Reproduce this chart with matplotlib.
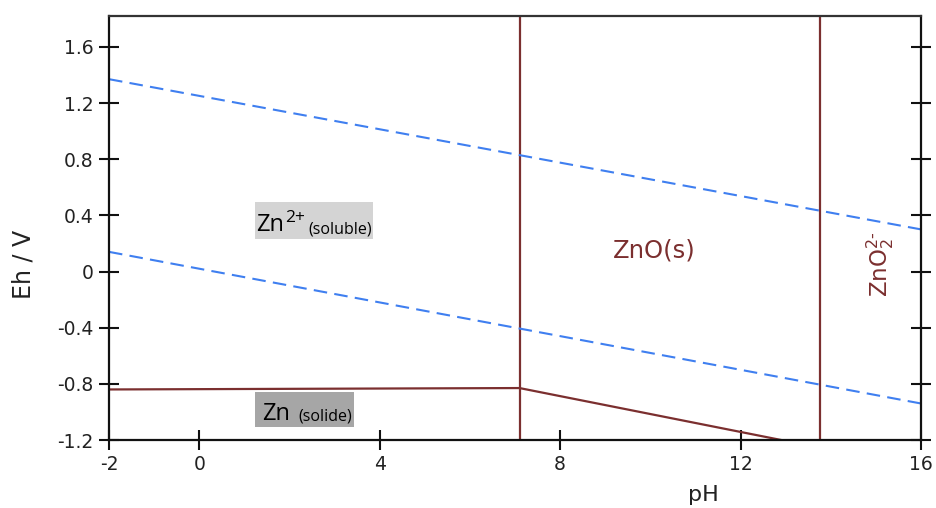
import matplotlib
matplotlib.use("Agg")
import matplotlib.pyplot as plt
from matplotlib.patches import Rectangle

# Pourbaix (Eh-pH) diagram of zinc
ph_zno_bounds = [7.1, 13.75]           # Zn2+/ZnO and ZnO/ZnO2 2- limits
zn_ph = [-2.0, 7.1, 12.9]             # Zn(s) stability limit
zn_eh = [-0.84, -0.83, -1.2]
water_ph = [-2.0, 16.0]                # water stability lines
water_o2 = [1.37, 0.30]
water_h2 = [0.14, -0.94]
xticks = [-2, 0, 4, 8, 12, 16]
yticks = [-1.2, -0.8, -0.4, 0, 0.4, 0.8, 1.2, 1.6]

brown = '#7b2f2f'
blue = '#3f7ff0'

fig = plt.figure(figsize=(9.36, 5.08), dpi=100)
ax = fig.add_axes([109/936, 1 - 440/508, 812/936, 424/508])

for ph in ph_zno_bounds:
    ax.axvline(ph, color=brown, lw=1.6)
ax.plot(zn_ph, zn_eh, color=brown, lw=1.6)
ax.plot(water_ph, water_o2, color=blue, lw=1.5, dashes=(6.5, 3.5))
ax.plot(water_ph, water_h2, color=blue, lw=1.5, dashes=(6.5, 3.5))

ax.set_xlim(-2, 16)
ax.set_ylim(-1.2, 1.82)
ax.set_xticks(xticks)
ax.set_yticks(yticks)
ax.set_yticklabels(['-1.2', '-0.8', '-0.4', '0', '0.4', '0.8', '1.2', '1.6'])
ax.set_xticklabels([str(t) for t in xticks])
ax.tick_params(axis='both', direction='inout', length=14, width=1.5,
               labelsize=13.5, color='#111111', labelcolor='#222222')
ax.tick_params(axis='y', right=True, pad=4)
ax.tick_params(axis='x', pad=4)
for side in ['left', 'bottom', 'right']:
    ax.spines[side].set_linewidth(1.6)
    ax.spines[side].set_color('#111111')
ax.spines['top'].set_linewidth(1.6)
ax.spines['top'].set_color('#333333')

ax.set_xlabel('pH', fontsize=16, color='#222222')
ax.set_ylabel('Eh / V', fontsize=17, color='#222222')
ax.yaxis.set_label_coords(-0.091, 0.413)
ax.xaxis.set_label_coords(0.732, -0.105)

# region labels
ax.text(10.08, 0.152, 'ZnO(s)', color=brown, fontsize=17.5,
        ha='center', va='center')
ax.text(15.1, 0.05, r'ZnO$_2^{2\text{-}}$', color=brown, fontsize=16.5,
        rotation=90, ha='center', va='center')

# boxed species labels
ax.add_patch(Rectangle((1.24, 0.23), 2.61, 0.264, facecolor='#d4d4d4',
                       edgecolor='none', zorder=3))
ax.text(1.27, 0.29, 'Zn', family='Open Sans', fontsize=17, color='black',
        ha='left', va='baseline', zorder=4)
ax.text(1.91, 0.355, '2+', family='Open Sans', fontsize=12.5, color='black',
        ha='left', va='baseline', zorder=4)
ax.text(2.42, 0.268, '(soluble)', family='Open Sans', fontsize=11.5,
        color='black', ha='left', va='baseline', zorder=4)

ax.add_patch(Rectangle((1.24, -1.107), 2.19, 0.249, facecolor='#a6a6a6',
                       edgecolor='none', zorder=3))
ax.text(1.4, -1.055, 'Zn', family='Open Sans', fontsize=17, color='black',
        ha='left', va='baseline', zorder=4)
ax.text(2.2, -1.063, '(solide)', family='Open Sans', fontsize=11.5,
        color='black', ha='left', va='baseline', zorder=4)

fig.savefig('out.png', dpi=100)
